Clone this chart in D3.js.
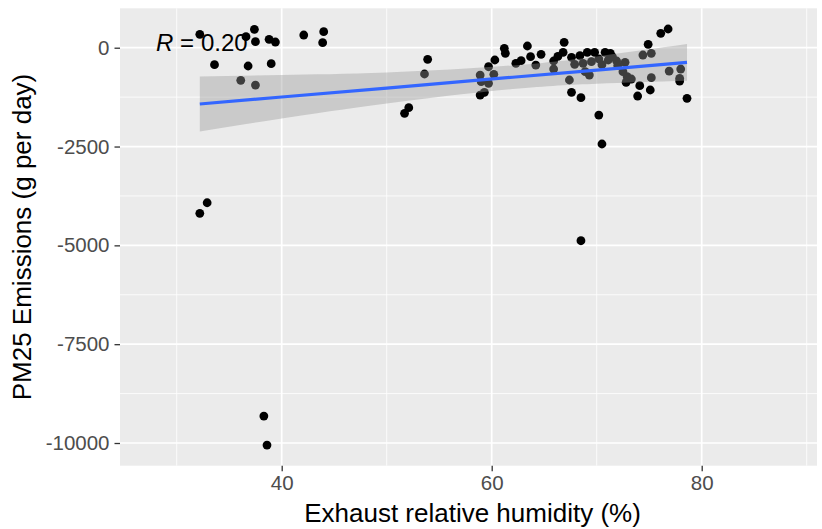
<!DOCTYPE html>
<html>
<head>
<meta charset="utf-8">
<script src="https://cdn.jsdelivr.net/npm/d3@7"></script>
<style>
  html, body { margin: 0; padding: 0; background: #ffffff; }
  svg { display: block; font-family: "Liberation Sans", Arial, sans-serif; }
</style>
</head>
<body>
<svg id="chart" width="822" height="529"></svg>
<script>
// ---- data ----
const humidity = [
  32.2, 36.6, 37.4, 37.5, 38.8, 39.4, 42.1, 44.0, 43.9, 33.6, 36.8, 39.0, 36.1, 37.5,
  32.9, 32.2, 38.3, 38.6,
  53.9, 53.6, 52.1, 51.7, 58.9, 59.7, 60.3, 60.2, 59.0, 59.7, 59.3, 58.9, 61.2, 61.3,
  63.4, 63.7, 64.7, 62.3, 62.8, 64.2,
  66.9, 66.8, 65.9, 65.9, 67.6, 68.4, 69.1, 69.8, 70.8, 71.3, 67.9, 68.7, 69.5, 68.9,
  69.3, 67.4, 67.6, 68.5, 70.2, 70.5, 71.1, 71.9, 72.7, 72.5, 72.9, 73.3, 72.8, 74.1,
  73.9, 75.1, 75.2, 74.4, 75.2, 74.9, 76.1, 76.8, 76.9, 78.0, 77.9, 77.9, 78.6, 68.5,
  70.2, 70.5, 71.5, 72.0, 66.3
];
const emissions = [
  339, 278, 466, 152, 213, 144, 321, 405, 127, -430, -463, -405, -825, -944,
  -3922, -4190, -9318, -10052,
  -294, -665, -1518, -1660, -691, -481, -311, -673, -860, -901, -1128, -1197, -15, -142,
  43, -228, -167, -395, -329, -438,
  137, -116, -336, -539, -243, -202, -116, -116, -116, -142, -420, -395, -354, -607,
  -691, -817, -1128, -1265, -1703, -2436, -311, -336, -370, -607, -734, -792, -876, -961,
  -1222, -1070, -759, -185, -142, 86, 364, 473, -590, -539, -774, -843, -1281, -4883,
  -280, -430, -230, -450, -220
];
// linear-fit line and its 95% band
const smoothX     = [32.2,  40,    50,    62,    70,   78.6];
const smoothFit   = [-1424, -1247, -1020, -747,  -565, -370];
const smoothLower = [-2120, -1790, -1410, -1047, -910, -835];
const smoothUpper = [-728,  -690,  -629,  -447,  -220,  93];

const xTicks = [40, 60, 80];
const xMinor = [30, 50, 70, 90];
const yTicks = [0, -2500, -5000, -7500, -10000];
const yMinor = [-1250, -3750, -6250, -8750];
const corrLabel = "0.20";
const xTitle = "Exhaust relative humidity (%)";
const yTitle = "PM25 Emissions (g per day)";

// ---- layout ----
const panel = { left: 120, right: 817, top: 8.3, bottom: 465.7 };
const svg = d3.select("#chart");

const x = d3.scaleLinear().domain([24.6, 90.98]).range([panel.left, panel.right]);
const y = d3.scaleLinear().domain([-10574, 997]).range([panel.bottom, panel.top]);

svg.append("rect").attr("width", 822).attr("height", 529).attr("fill", "#ffffff");
svg.append("rect")
  .attr("x", panel.left).attr("y", panel.top)
  .attr("width", panel.right - panel.left).attr("height", panel.bottom - panel.top)
  .attr("fill", "#EBEBEB");

const grid = svg.append("g");
grid.selectAll(".xmin").data(xMinor).join("line")
  .attr("x1", d => x(d)).attr("x2", d => x(d))
  .attr("y1", panel.top).attr("y2", panel.bottom)
  .attr("stroke", "#ffffff").attr("stroke-width", 0.8);
grid.selectAll(".ymin").data(yMinor).join("line")
  .attr("y1", d => y(d)).attr("y2", d => y(d))
  .attr("x1", panel.left).attr("x2", panel.right)
  .attr("stroke", "#ffffff").attr("stroke-width", 0.8);
grid.selectAll(".xmaj").data(xTicks).join("line")
  .attr("x1", d => x(d)).attr("x2", d => x(d))
  .attr("y1", panel.top).attr("y2", panel.bottom)
  .attr("stroke", "#ffffff").attr("stroke-width", 1.7);
grid.selectAll(".ymaj").data(yTicks).join("line")
  .attr("y1", d => y(d)).attr("y2", d => y(d))
  .attr("x1", panel.left).attr("x2", panel.right)
  .attr("stroke", "#ffffff").attr("stroke-width", 1.7);

// points
const pts = humidity.map((h, i) => ({ x: h, y: emissions[i] }));
svg.append("g").selectAll("circle").data(pts).join("circle")
  .attr("cx", d => x(d.x)).attr("cy", d => y(d.y)).attr("r", 4.4)
  .attr("fill", "#000000");

// smooth band + line
const band = smoothX.map((xv, i) => ({ x: xv, fit: smoothFit[i], lo: smoothLower[i], hi: smoothUpper[i] }));
svg.append("path").datum(band)
  .attr("d", d3.area().curve(d3.curveNatural).x(d => x(d.x)).y0(d => y(d.lo)).y1(d => y(d.hi)))
  .attr("fill", "#999999").attr("fill-opacity", 0.4);
svg.append("path").datum(band)
  .attr("d", d3.line().x(d => x(d.x)).y(d => y(d.fit)))
  .attr("fill", "none").attr("stroke", "#3366FF").attr("stroke-width", 3.2);

// correlation label
const lab = svg.append("text").attr("y", 51).attr("font-size", 24).attr("fill", "#000000");
lab.append("tspan").attr("x", 156).attr("font-style", "italic").text("R");
lab.append("tspan").attr("x", 180).text("=");
lab.append("tspan").attr("x", 201).text(corrLabel);

// axes
const xAxis = svg.append("g").attr("transform", `translate(0,${panel.bottom})`)
  .call(d3.axisBottom(x).tickValues(xTicks).tickSize(5.5).tickPadding(4).tickFormat(d3.format("d")));
const yAxis = svg.append("g").attr("transform", `translate(${panel.left},0)`)
  .call(d3.axisLeft(y).tickValues(yTicks).tickSize(5.5).tickPadding(5).tickFormat(d => String(d)));
[xAxis, yAxis].forEach(g => {
  g.select(".domain").remove();
  g.selectAll(".tick line").attr("stroke", "#333333").attr("stroke-width", 1.3);
  g.selectAll(".tick text").attr("fill", "#4D4D4D").attr("font-size", 20.5)
    .attr("font-family", "'Liberation Sans', Arial, sans-serif");
});

svg.append("text")
  .attr("x", (panel.left + panel.right) / 2 + 4).attr("y", 522)
  .attr("text-anchor", "middle").attr("font-size", 26).attr("fill", "#000000")
  .text(xTitle);
svg.append("text")
  .attr("transform", `translate(31,${(panel.top + panel.bottom) / 2}) rotate(-90)`)
  .attr("text-anchor", "middle").attr("font-size", 26).attr("fill", "#000000")
  .text(yTitle);
</script>
</body>
</html>
